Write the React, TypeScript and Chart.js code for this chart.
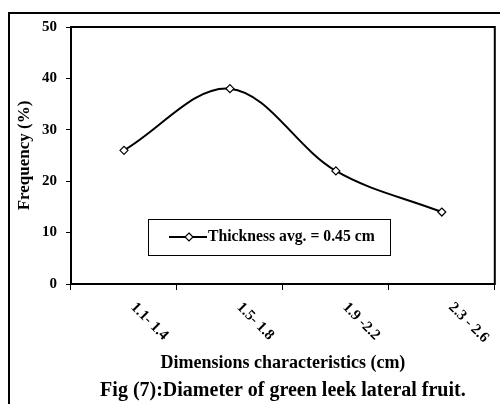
import React, { useEffect, useRef } from "react";
import { Chart, registerables } from "chart.js";

Chart.register(...registerables);

const categories = ["1.1- 1.4", "1.5- 1.8", "1.9 -2.2", "2.3 - 2.6"];
const thickness = [26, 38, 22, 14];
const seriesLabel = "Thickness avg. = 0.45 cm";
const yTitle = "Frequency (%)";
const xTitle = "Dimensions characteristics (cm)";
const caption = "Fig (7):Diameter of green leek lateral fruit.";

const FONT = "'Liberation Serif', 'Times New Roman', serif";

const decorPlugin = {
  id: "decor",
  beforeDatasetsDraw(chart: any) {
    const { ctx, chartArea } = chart;
    ctx.save();
    ctx.strokeStyle = "#000";
    ctx.lineWidth = 2;
    ctx.strokeRect(chartArea.left, chartArea.top, chartArea.right - chartArea.left, chartArea.bottom - chartArea.top);
    // outer frame (top and left edges)
    ctx.beginPath();
    ctx.moveTo(9, 404);
    ctx.lineTo(9, 13);
    ctx.lineTo(500, 13);
    ctx.stroke();
    ctx.restore();
  },
  afterDraw(chart: any) {
    const { ctx, chartArea } = chart;
    const xs = chart.scales.x;
    ctx.save();
    ctx.fillStyle = "#000";
    // rotated category labels
    ctx.font = `bold 15px ${FONT}`;
    ctx.textAlign = "left";
    ctx.textBaseline = "middle";
    categories.forEach((c, i) => {
      const px = xs.getPixelForValue(i);
      ctx.save();
      ctx.translate(px + 9, 305);
      ctx.rotate(Math.PI / 4);
      ctx.fillText(c, 0, 0);
      ctx.restore();
    });
    // caption
    ctx.font = `bold 20px ${FONT}`;
    ctx.textAlign = "center";
    ctx.fillText(caption, (chartArea.left + chartArea.right) / 2, 391);
    // legend
    const ds = chart.data.datasets[0];
    ctx.lineWidth = 1;
    ctx.strokeStyle = "#000";
    ctx.strokeRect(148.5, 219.5, 242, 36);
    ctx.lineWidth = 2;
    ctx.beginPath();
    ctx.moveTo(169, 237);
    ctx.lineTo(207, 237);
    ctx.stroke();
    ctx.beginPath();
    const mx = 189, my = 237, r = 4;
    ctx.moveTo(mx, my - r);
    ctx.lineTo(mx + r, my);
    ctx.lineTo(mx, my + r);
    ctx.lineTo(mx - r, my);
    ctx.closePath();
    ctx.fillStyle = "#fff";
    ctx.fill();
    ctx.lineWidth = 1.2;
    ctx.stroke();
    ctx.fillStyle = "#000";
    ctx.font = `bold 15.7px ${FONT}`;
    ctx.textAlign = "left";
    ctx.fillText(ds.label, 208, 237);
    ctx.restore();
  },
};

export default function App() {
  const ref = useRef<HTMLCanvasElement>(null);
  useEffect(() => {
    if (!ref.current) return;
    const chart = new Chart(ref.current, {
      type: "line",
      data: {
        labels: categories,
        datasets: [
          {
            label: seriesLabel,
            data: thickness,
            borderColor: "#000",
            borderWidth: 2,
            tension: 0.35,
            pointStyle: "rectRot",
            pointRadius: 4,
            pointBackgroundColor: "#fff",
            pointBorderColor: "#000",
            pointBorderWidth: 1.2,
          },
        ],
      },
      options: {
        animation: false,
        responsive: true,
        maintainAspectRatio: false,
        layout: { padding: { top: 27, right: 4, left: 0, bottom: 0 } },
        plugins: { legend: { display: false }, tooltip: { enabled: false } },
        scales: {
          x: {
            type: "category",
            offset: true,
            grid: { offset: true, drawOnChartArea: false, drawTicks: true, tickLength: 6, color: "#000", lineWidth: 1 },
            border: { display: false },
            ticks: { display: false },
            title: {
              display: true,
              text: xTitle,
              color: "#000",
              font: { family: FONT, size: 18, weight: "bold" },
              padding: { top: 0, bottom: 30 },
            },
            afterFit: (s: any) => {
              s.height = 120;
            },
          },
          y: {
            min: 0,
            max: 50,
            ticks: {
              stepSize: 10,
              color: "#000",
              padding: 9,
              font: { family: FONT, size: 15, weight: "bold" },
            },
            grid: { drawOnChartArea: false, drawTicks: true, tickLength: 5, color: "#000", lineWidth: 1 },
            border: { display: false },
            title: {
              display: true,
              text: yTitle,
              color: "#000",
              font: { family: FONT, size: 17, weight: "bold" },
              padding: { top: 14, bottom: 0 },
            },
            afterFit: (s: any) => {
              s.width = 71;
            },
          },
        },
      },
      plugins: [decorPlugin],
    });
    return () => chart.destroy();
  }, []);
  return (
    <div style={{ position: "fixed", left: 0, top: 0, width: 500, height: 404, background: "#fff" }}>
      <canvas ref={ref} />
    </div>
  );
}
